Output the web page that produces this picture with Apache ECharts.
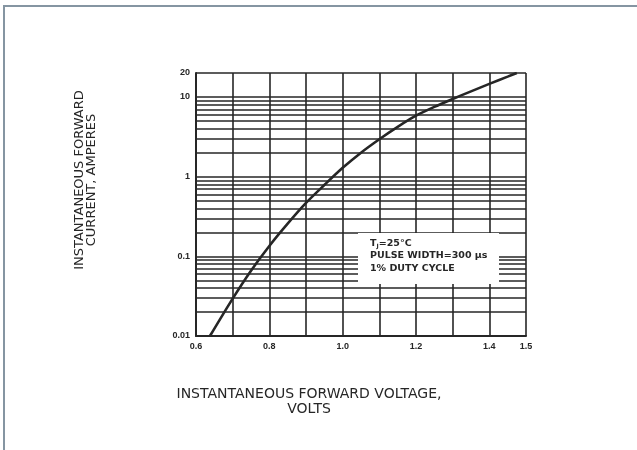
<!DOCTYPE html>
<html><head><meta charset="utf-8">
<script src="https://cdn.jsdelivr.net/npm/echarts@6/dist/echarts.min.js"></script>
<style>html,body{margin:0;padding:0;background:#fff}#c{width:637px;height:450px}</style>
</head><body><div id="c"></div>
<script>
// Data
var voltage = [0.638, 0.70, 0.75, 0.80, 0.85, 0.90, 0.95, 1.00, 1.05, 1.10, 1.15, 1.20, 1.25, 1.30, 1.35, 1.40, 1.45, 1.475];
var current = [0.01, 0.0295, 0.0661, 0.135, 0.257, 0.468, 0.785, 1.29, 2.0, 2.95, 4.22, 5.82, 7.5, 9.44, 11.75, 14.6, 18.0, 20];
var xTickLabels = ['0.6', '0.8', '1.0', '1.2', '1.4', '1.5'];
var yTickLabels = ['0.01', '0.1', '1', '10', '20'];
var minorGrid = [0.02,0.03,0.04,0.05,0.06,0.07,0.08,0.09,0.2,0.3,0.4,0.5,0.6,0.7,0.8,0.9,2,3,4,5,6,7,8,9];
var noteLines = ['T{s|J}=25°C', 'PULSE WIDTH=300 μs', '1% DUTY CYCLE'];
var xTitle = 'INSTANTANEOUS FORWARD VOLTAGE,\nVOLTS';
var yTitle = 'INSTANTANEOUS FORWARD\nCURRENT, AMPERES';

var ink = '#262626';
var font = 'Liberation Sans, Arial, sans-serif';
var wide = 'DejaVu Sans, Verdana, sans-serif';
var chart = echarts.init(document.getElementById('c'), null, {renderer: 'canvas'});
chart.setOption({
  animation: false,
  backgroundColor: '#fff',
  grid: {left: 196, right: 111, top: 73, bottom: 114, containLabel: false},
  xAxis: {
    type: 'value', min: 0.6, max: 1.5, interval: 0.1,
    axisLine: {show: true, lineStyle: {color: ink, width: 2}},
    axisTick: {show: false},
    splitLine: {show: true, lineStyle: {color: ink, width: 1.6}},
    axisLabel: {
      fontFamily: font, fontSize: 9, fontWeight: 'bold', color: ink, margin: 6,
      showMinLabel: true, showMaxLabel: true,
      formatter: function (v) { var s = v.toFixed(1); return xTickLabels.indexOf(s) >= 0 ? s : ''; }
    }
  },
  yAxis: {
    type: 'log', logBase: 10, min: 0.01, max: 20,
    axisLine: {show: true, lineStyle: {color: ink, width: 2}},
    axisTick: {show: false},
    splitLine: {show: true, lineStyle: {color: ink, width: 1.6}},
    axisLabel: {
      fontFamily: font, fontSize: 9, fontWeight: 'bold', color: ink, margin: 6,
      showMinLabel: true, showMaxLabel: true,
      formatter: function (v) {
        var s = String(+v.toPrecision(3));
        return yTickLabels.indexOf(s) >= 0 ? s : '';
      }
    }
  },
  series: [{
    type: 'line', smooth: 0.3, symbol: 'none',
    data: voltage.map(function (x, i) { return [x, current[i]]; }),
    lineStyle: {color: ink, width: 2.6},
    z: 3,
    markLine: {
      silent: true, symbol: 'none', label: {show: false},
      lineStyle: {color: ink, width: 1.6, type: 'solid'},
      data: minorGrid.map(function (v) { return {yAxis: v}; }),
      z: 2
    }
  }],
  graphic: [
    {type: 'rect', z: 100, shape: {x: 358, y: 233, width: 141, height: 51}, style: {fill: '#fff'}},
    {type: 'text', z: 101, x: 370, y: 237,
      style: {
        text: noteLines.join('\n'), fontFamily: wide, fontSize: 9.5, fontWeight: 'bold', fill: ink, lineHeight: 12.5,
        rich: {s: {fontSize: 6, fontFamily: wide, fontWeight: 'bold', fill: ink, verticalAlign: 'bottom', padding: [4, 0, 0, 0]}}
      }},
    {type: 'text', z: 101, x: 309, y: 402,
      style: {text: xTitle, fontFamily: wide, fontSize: 14, fill: ink, lineHeight: 15, align: 'center', verticalAlign: 'middle'}},
    {type: 'text', z: 101, x: 86, y: 180, rotation: Math.PI / 2,
      style: {text: yTitle, fontFamily: wide, fontSize: 13, fill: ink, lineHeight: 12, align: 'center', verticalAlign: 'middle'}},
    {type: 'rect', z: 100, shape: {x: 3, y: 5, width: 2, height: 445}, style: {fill: '#8595a2'}},
    {type: 'rect', z: 100, shape: {x: 3, y: 5, width: 634, height: 2}, style: {fill: '#8595a2'}}
  ]
});
</script></body></html>
